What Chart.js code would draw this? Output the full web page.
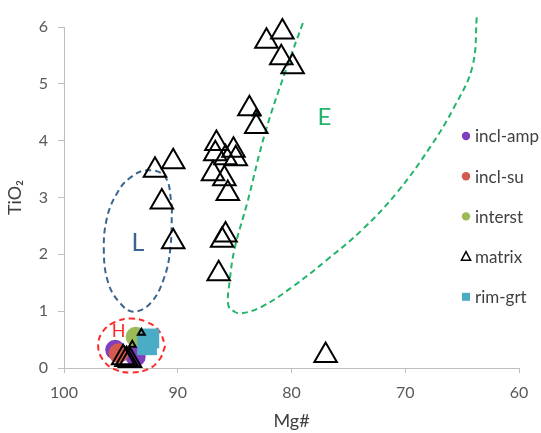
<!DOCTYPE html>
<html>
<head>
<meta charset="utf-8">
<script src="https://cdn.jsdelivr.net/npm/chart.js@4.4.0/dist/chart.umd.min.js"></script>
<style>
    html, body { margin: 0; padding: 0; background: #fff; }
    #wrap { width: 541px; height: 433px; }
</style>
</head>
<body>
<div id="wrap"><canvas id="scatterChart" width="541" height="433"></canvas></div>
<script>
// Mg# (x) and TiO2 (y)
const inclAmpX = [95.5, 93.7];
const inclAmpY = [0.32, 0.20];

const inclSuX = [95.2];
const inclSuY = [0.26];

const interstX = [93.7];
const interstY = [0.55];

const rimGrtX = [92.5, 92.7];
const rimGrtY = [0.52, 0.40];

const matrixX = [80.8, 82.2, 80.9, 79.9, 83.7, 83.1, 86.6, 85.1, 86.7, 85.8, 84.9, 86.9,
                 85.9, 85.6, 85.8, 86.1, 86.4, 92.0, 90.4, 91.4, 90.4, 77.0, 94.8, 94.5, 94.2];
const matrixY = [5.91, 5.75, 5.46, 5.30, 4.56, 4.25, 3.95, 3.83, 3.77, 3.70, 3.68, 3.42,
                 3.33, 3.07, 2.34, 2.25, 1.66, 3.48, 3.63, 2.92, 2.22, 0.22, 0.18, 0.15, 0.13];

// a few matrix points plotted with a tiny marker
const matrixSmallX = [93.2, 94.0, 83.1];
const matrixSmallY = [0.62, 0.41, 4.48];

// dashed field outlines
const fieldLX = [90.5, 90.67, 91.26, 92.4, 93.9, 95.06, 96.1, 96.5, 96.2, 95.35, 94.3, 92.7, 91.1, 90.5];
const fieldLY = [2.83, 2.07, 1.55, 1.14, 0.99, 1.14, 1.49, 2.07, 2.66, 3.07, 3.33, 3.48, 3.36, 2.83];

const fieldEX = [79.0, 80.5, 82.3, 83.9, 85.0, 85.45, 85.55, 85.0, 84.4, 82.6, 79.9, 76.9, 73.8, 70.8, 67.8, 65.7, 64.1, 63.7];
const fieldEY = [6.07, 5.24, 4.15, 2.90, 2.10, 1.50, 1.10, 0.99, 0.96, 1.08, 1.43, 1.90, 2.43, 3.07, 3.89, 4.59, 5.30, 6.20];

const fieldHX = [91.1, 91.6, 92.6, 94.1, 95.6, 96.6, 97.0, 96.6, 95.6, 94.1, 92.6, 91.6, 91.1];
const fieldHY = [0.39, 0.15, -0.02, -0.08, -0.02, 0.15, 0.39, 0.64, 0.80, 0.87, 0.80, 0.64, 0.39];

const regionNames = ['L', 'E', 'H'];
const regionX = [93.5, 77.1, 95.2];
const regionY = [2.2, 4.42, 0.64];

const legendNames = ['incl-amp', 'incl-su', 'interst', 'matrix', 'rim-grt'];

const xTicks = [100, 90, 80, 70, 60];
const yTicks = [0, 1, 2, 3, 4, 5, 6];

// styles
const regionColors = ['#3b6591', '#22b46a', '#ff2a2a'];
const regionFontSizes = [25, 24, 18];
const legendLayout = { markerX: 466, textX: 475, firstY: 136, stepY: 40.2 };

function toPoints(xs, ys) {
    return xs.map((x, i) => ({ x: x, y: ys[i] }));
}

function fieldDataset(label, xs, ys, color) {
    return {
        label: label,
        data: toPoints(xs, ys),
        showLine: true,
        pointRadius: 0,
        pointHoverRadius: 0,
        borderColor: color,
        borderWidth: 2,
        borderDash: [6, 4],
        tension: 0.4,
        capBezierPoints: false,
        fill: false,
        clip: false,
        order: 8
    };
}

function drawLegendMarker(ctx, ds, x, y) {
    ctx.beginPath();
    if (ds.pointStyle === 'triangle') {
        ctx.moveTo(x, y - 5);
        ctx.lineTo(x + 4.6, y + 3.6);
        ctx.lineTo(x - 4.6, y + 3.6);
        ctx.closePath();
        ctx.lineWidth = 1.5;
        ctx.strokeStyle = ds.borderColor;
        ctx.stroke();
    } else if (ds.pointStyle === 'rect') {
        ctx.fillStyle = ds.backgroundColor;
        ctx.fillRect(x - 4, y - 4, 8, 8);
    } else {
        ctx.arc(x, y, 4.2, 0, Math.PI * 2);
        ctx.fillStyle = ds.backgroundColor;
        ctx.fill();
    }
}

const overlayPlugin = {
    id: 'overlay',
    afterDraw(chart) {
        const ctx = chart.ctx;
        const xs = chart.scales.x;
        const ys = chart.scales.y;
        ctx.save();
        ctx.textAlign = 'center';
        ctx.textBaseline = 'middle';
        regionNames.forEach((name, i) => {
            ctx.font = regionFontSizes[i] + 'px Lato';
            ctx.fillStyle = regionColors[i];
            ctx.fillText(name, xs.getPixelForValue(regionX[i]), ys.getPixelForValue(regionY[i]));
        });

        // legend, drawn over the right part of the plot
        ctx.textAlign = 'left';
        ctx.font = '17px Lato';
        legendNames.forEach((name, i) => {
            const ds = chart.data.datasets.find(d => d.label === name);
            const y = legendLayout.firstY + i * legendLayout.stepY;
            drawLegendMarker(ctx, ds, legendLayout.markerX, y);
            ctx.fillStyle = '#404040';
            ctx.fillText(name, legendLayout.textX, y + 1);
        });
        ctx.restore();
    }
};

const ctx = document.getElementById('scatterChart').getContext('2d');
new Chart(ctx, {
    type: 'scatter',
    data: {
        datasets: [
            {
                label: 'matrix-small',
                data: toPoints(matrixSmallX, matrixSmallY),
                pointStyle: 'triangle',
                pointRadius: 4,
                backgroundColor: 'rgba(0,0,0,0)',
                borderColor: '#000',
                borderWidth: 2,
                clip: false,
                order: 0
            },
            {
                label: 'matrix',
                data: toPoints(matrixX, matrixY),
                pointStyle: 'triangle',
                pointRadius: 13,
                backgroundColor: 'rgba(0,0,0,0)',
                borderColor: '#000',
                borderWidth: 2,
                clip: false,
                order: 1
            },
            {
                label: 'rim-grt',
                data: toPoints(rimGrtX, rimGrtY),
                pointStyle: 'rect',
                pointRadius: 14,
                backgroundColor: '#4bacc6',
                borderWidth: 0,
                clip: false,
                order: 2
            },
            {
                label: 'interst',
                data: toPoints(interstX, interstY),
                pointStyle: 'circle',
                pointRadius: 10,
                backgroundColor: '#9bbb59',
                borderWidth: 0,
                clip: false,
                order: 3
            },
            {
                label: 'incl-su',
                data: toPoints(inclSuX, inclSuY),
                pointStyle: 'circle',
                pointRadius: 10,
                backgroundColor: '#d45a4e',
                borderWidth: 0,
                clip: false,
                order: 4
            },
            {
                label: 'incl-amp',
                data: toPoints(inclAmpX, inclAmpY),
                pointStyle: 'circle',
                pointRadius: 10,
                backgroundColor: '#7f3fbf',
                borderWidth: 0,
                clip: false,
                order: 5
            },
            fieldDataset('L', fieldLX, fieldLY, '#3b6591'),
            fieldDataset('E', fieldEX, fieldEY, '#22b46a'),
            fieldDataset('H', fieldHX, fieldHY, '#ff2a2a')
        ]
    },
    options: {
        responsive: false,
        animation: false,
        events: [],
        layout: { padding: { left: 0, top: 27, right: 22, bottom: 0 } },
        plugins: {
            legend: { display: false },
            tooltip: { enabled: false }
        },
        scales: {
            x: {
                type: 'linear',
                min: 60,
                max: 100,
                reverse: true,
                afterBuildTicks: (scale) => { scale.ticks = xTicks.map(v => ({ value: v })); },
                afterFit: (scale) => { scale.height = 65; },
                ticks: { color: '#595959', font: { family: 'Lato', size: 16 }, padding: 10 },
                grid: { drawOnChartArea: false, tickLength: 5, color: '#bfbfbf' },
                border: { color: '#bfbfbf' },
                title: {
                    display: true,
                    text: 'Mg#',
                    color: '#404040',
                    font: { family: 'Lato', size: 18 },
                    padding: { top: 0, bottom: 1 }
                }
            },
            y: {
                type: 'linear',
                min: 0,
                max: 6,
                afterBuildTicks: (scale) => { scale.ticks = yTicks.map(v => ({ value: v })); },
                afterFit: (scale) => { scale.width = 64; },
                ticks: { color: '#595959', font: { family: 'Lato', size: 16 }, padding: 10 },
                grid: { drawOnChartArea: false, tickLength: 6, color: '#bfbfbf' },
                border: { color: '#bfbfbf' },
                title: {
                    display: true,
                    text: 'TiO₂',
                    color: '#404040',
                    font: { family: 'Lato', size: 18 },
                    padding: { top: 4, bottom: 0 }
                }
            }
        }
    },
    plugins: [overlayPlugin]
});
</script>
</body>
</html>
